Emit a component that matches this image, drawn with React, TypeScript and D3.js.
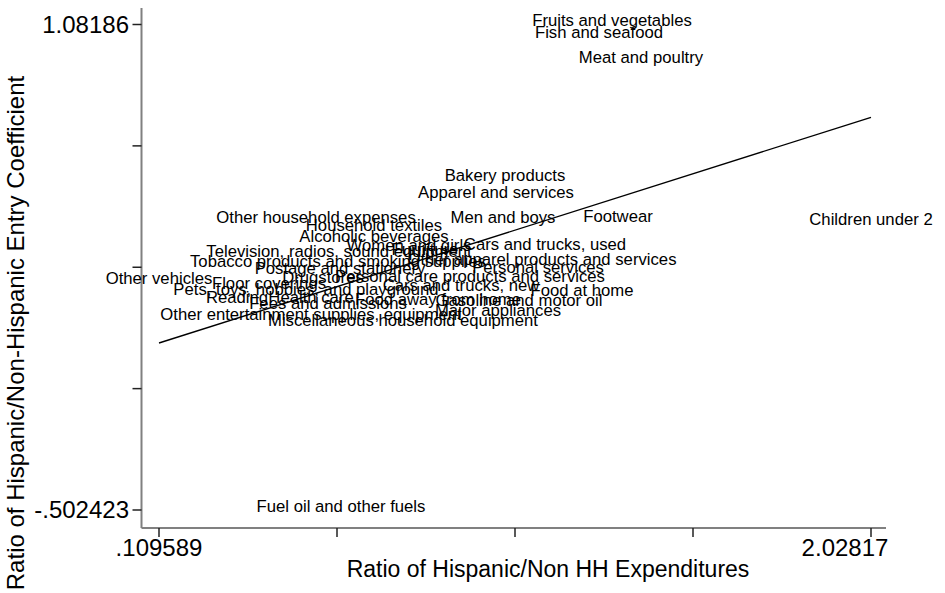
import React from "react";
import * as d3 from "d3";

const categories = [
  "Fruits and vegetables", "Fish and seafood", "Meat and poultry", "Bakery products",
  "Apparel and services", "Men and boys", "Footwear", "Children under 2",
  "Other household expenses", "Household textiles", "Alcoholic beverages", "Women and girls",
  "Furniture", "Cars and trucks, used", "Television, radios, sound equipment",
  "Tobacco products and smoking supplies", "Other apparel products and services",
  "Postage and stationery", "Personal services", "Other vehicles", "Drugstores",
  "Personal care products and services", "Floor coverings", "Cars and trucks, new",
  "Pets, toys, hobbies, and playground", "Food at home", "Gasoline and motor oil",
  "Food away from home", "Reading", "Health care", "Fees and admissions",
  "Major appliances", "Other entertainment supplies, equipment",
  "Miscellaneous household equipment", "Fuel oil and other fuels",
];

const expenditureRatio = [
  1.3303, 1.2952, 1.4084, 1.0419,
  1.0177, 1.0365, 1.3464, 2.02817,
  0.5327, 0.6889, 0.6889, 0.7833,
  0.8264, 1.1497, 0.5946,
  0.5919, 1.1416,
  0.5973, 1.1309, 0.109589, 0.5515,
  0.9476, 0.406, 0.9234,
  0.5057, 1.2494, 1.0797,
  0.8614, 0.3198, 0.5192, 0.565,
  1.0231, 0.5192,
  0.7671, 0.6,
];

const entryRatio = [
  1.08186, 1.0434, 0.9637, 0.5777,
  0.5222, 0.4407, 0.4439, 0.4341,
  0.4407, 0.4146, 0.3787, 0.3493,
  0.3362, 0.3526, 0.3297,
  0.2971, 0.3036,
  0.2742, 0.2775, 0.2416, 0.2449,
  0.2481, 0.2253, 0.2187,
  0.2057, 0.2024, 0.1698,
  0.1731, 0.1796, 0.178, 0.16,
  0.1372, 0.1241,
  0.1045, -0.502423,
];

// fitted values at the min and max of x
const fitX = [0.109589, 2.02817];
const fitY = [0.0425, 0.779];

const xDomain = [0.109589, 2.02817];
const yDomain = [-0.502423, 1.08186];
const xTickLabels = [".109589", "", "", "", "2.02817"];
const yTickLabels = ["-.502423", "", "", "", "1.08186"];
const xTitle = "Ratio of Hispanic/Non HH Expenditures";
const yTitle = "Ratio of Hispanic/Non-Hispanic Entry Coefficient";

const W = 945;
const H = 593;
const FONT = "'Liberation Sans', Arial, Helvetica, sans-serif";

export default function App() {
  const x = d3.scaleLinear().domain(xDomain).range([159, 871]);
  const y = d3.scaleLinear().domain(yDomain).range([510, 24.5]);
  const axisX = 141.5;
  const axisY = 528;
  const xTicks = d3.range(5).map((i) => xDomain[0] + (i * (xDomain[1] - xDomain[0])) / 4);
  const yTicks = d3.range(5).map((i) => yDomain[0] + (i * (yDomain[1] - yDomain[0])) / 4);
  const line = d3
    .line<number>()
    .x((_, i) => x(fitX[i]))
    .y((d) => y(d));

  return (
    <svg
      width={W}
      height={H}
      style={{ position: "absolute", left: 0, top: 0, background: "#fff" }}
      fontFamily={FONT}
    >
      <rect x={0} y={0} width={W} height={H} fill="#fff" />
      {/* axes */}
      <line x1={axisX} x2={axisX} y1={8} y2={axisY} stroke="#808080" strokeWidth={2} />
      <line x1={axisX} x2={886} y1={axisY} y2={axisY} stroke="#808080" strokeWidth={2} />
      {yTicks.map((t, i) => (
        <g key={"yt" + i}>
          <line x1={axisX - 9} x2={axisX} y1={y(t)} y2={y(t)} stroke="#222" strokeWidth={1.5} />
          {yTickLabels[i] && (
            <text x={129} y={y(t)} dy="0.35em" textAnchor="end" fontSize={24} fill="#000">
              {yTickLabels[i]}
            </text>
          )}
        </g>
      ))}
      {xTicks.map((t, i) => (
        <g key={"xt" + i}>
          <line x1={x(t)} x2={x(t)} y1={axisY} y2={axisY + 9} stroke="#222" strokeWidth={1.5} />
          {xTickLabels[i] && (
            <text
              x={x(t)}
              dx={i === 4 ? -26 : 0}
              y={axisY + 20}
              dy="0.35em"
              textAnchor="middle"
              fontSize={24}
              fill="#000"
            >
              {xTickLabels[i]}
            </text>
          )}
        </g>
      ))}
      <text x={548} y={569} dy="0.35em" textAnchor="middle" fontSize={23} fill="#000">
        {xTitle}
      </text>
      <text
        transform={`translate(16,333) rotate(-90)`}
        dy="0.35em"
        textAnchor="middle"
        fontSize={24}
        fill="#000"
      >
        {yTitle}
      </text>
      {/* fitted line */}
      <path d={line(fitY) || ""} fill="none" stroke="#000" strokeWidth={1.4} />
      {/* labels */}
      {categories.map((c, i) => (
        <text
          key={c}
          x={x(expenditureRatio[i])}
          y={y(entryRatio[i]) - 4}
          dy="0.35em"
          textAnchor="middle"
          fontSize={16.7}
          fill="#000"
        >
          {c}
        </text>
      ))}
    </svg>
  );
}
